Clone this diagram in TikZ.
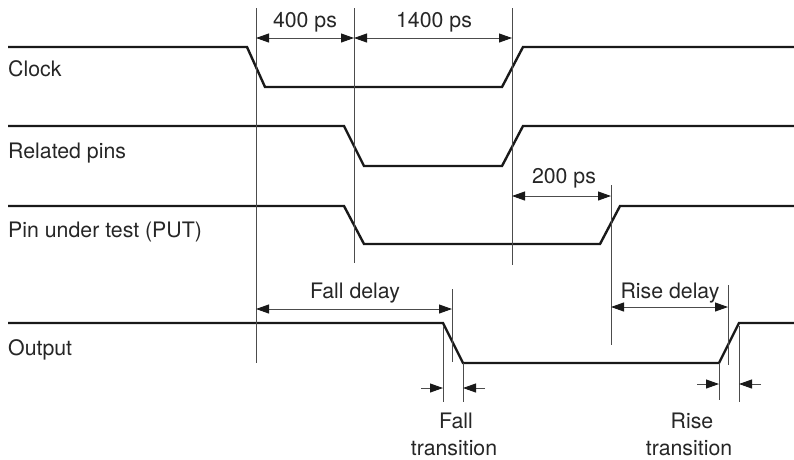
\documentclass[tikz,border=0pt]{standalone}
\usepackage{fontspec}
\setmainfont{TeX Gyre Heros}
\usetikzlibrary{arrows.meta}
\begin{document}
\begin{tikzpicture}[x=1pt,y=-1pt,
  sig/.style={line width=2.4pt, black!90, line join=miter},
  guide/.style={line width=0.9pt, black!70},
  dim/.style={line width=0.9pt, black!70, {Triangle[length=13pt,width=9pt,color=black!90]}-{Triangle[length=13pt,width=9pt,color=black!90]}},
  sdim/.style={line width=0.9pt, black!70, -{Triangle[length=13pt,width=9pt,color=black!90]}},
  lbl/.style={font=\fontsize{21.3}{25}\selectfont, inner sep=0pt, text=black!85}]
\useasboundingbox (0,0) rectangle (794,459);
% signals
\draw[sig] (8,47) -- (247,47) -- (265,87) -- (502,87) -- (523,47) -- (794,47);
\draw[sig] (8,126) -- (344,126) -- (364,166) -- (502,166) -- (523,126) -- (794,126);
\draw[sig] (8,206) -- (344,206) -- (364,244) -- (600,244) -- (620,206) -- (794,206);
\draw[sig] (8,323) -- (443,323) -- (463,363) -- (719,363) -- (739,323) -- (794,323);
% guide coordinates
\coordinate (g1t) at (256,8);   \coordinate (g1b) at (256,363);
\coordinate (g2t) at (354,8);   \coordinate (g2b) at (354,263);
\coordinate (g3t) at (512,8);   \coordinate (g3b) at (512,265);
\coordinate (g4t) at (611,185); \coordinate (g4b) at (611,345);
\coordinate (g5t) at (452,289); \coordinate (g5b) at (452,362);
\coordinate (g6t) at (728,285); \coordinate (g6b) at (728,365);
\coordinate (g7t) at (443,326); \coordinate (g7b) at (443,402);
\coordinate (g8t) at (463,363); \coordinate (g8b) at (463,402);
\coordinate (g9t) at (719,363); \coordinate (g9b) at (719,400);
\coordinate (g10t) at (739,326); \coordinate (g10b) at (739,402);
\foreach \g in {1,...,10} \draw[guide] (g\g t) -- (g\g b);
% dimension arrows
\coordinate (a1) at (256,38); \coordinate (a2) at (354,38); \coordinate (a3) at (512,38);
\draw[dim] (a1) -- (a2);
\draw[dim] (a2) -- (a3);
\coordinate (b1) at (512,196); \coordinate (b2) at (611,196);
\draw[dim] (b1) -- (b2);
\coordinate (c1) at (256,309); \coordinate (c2) at (452,309);
\draw[dim] (c1) -- (c2);
\coordinate (d1) at (611,307); \coordinate (d2) at (728,307);
\draw[dim] (d1) -- (d2);
% transition arrows
\coordinate (e1) at (421,388); \coordinate (e2) at (443,388);
\coordinate (e3) at (485,388); \coordinate (e4) at (463,388);
\draw[sdim] (e1) -- (e2);
\draw[sdim] (e3) -- (e4);
\coordinate (f1) at (697,384); \coordinate (f2) at (719,384);
\coordinate (f3) at (761,384); \coordinate (f4) at (739,384);
\draw[sdim] (f1) -- (f2);
\draw[sdim] (f3) -- (f4);
% labels
\node[lbl, anchor=base west] (lclk) at (8,76) {Clock};
\node[lbl, anchor=base west] (lrel) at (8,158) {Related pins};
\node[lbl, anchor=base west] (lput) at (8,237) {Pin under test (PUT)};
\node[lbl, anchor=base west] (lout) at (8,355) {Output};
\node[lbl, anchor=base] (t400) at (305,27) {400 ps};
\node[lbl, anchor=base] (t1400) at (434,27) {1400 ps};
\node[lbl, anchor=base] (t200) at (564,183) {200 ps};
\node[lbl, anchor=base] (tfd) at (355,298) {Fall delay};
\node[lbl, anchor=base] (trd) at (670,298) {Rise delay};
\node[lbl, anchor=base] (tf1) at (456,428) {Fall};
\node[lbl, anchor=base] (tf2) at (454,455) {transition};
\node[lbl, anchor=base] (tr1) at (692,428) {Rise};
\node[lbl, anchor=base] (tr2) at (689,455) {transition};
\end{tikzpicture}
\end{document}
